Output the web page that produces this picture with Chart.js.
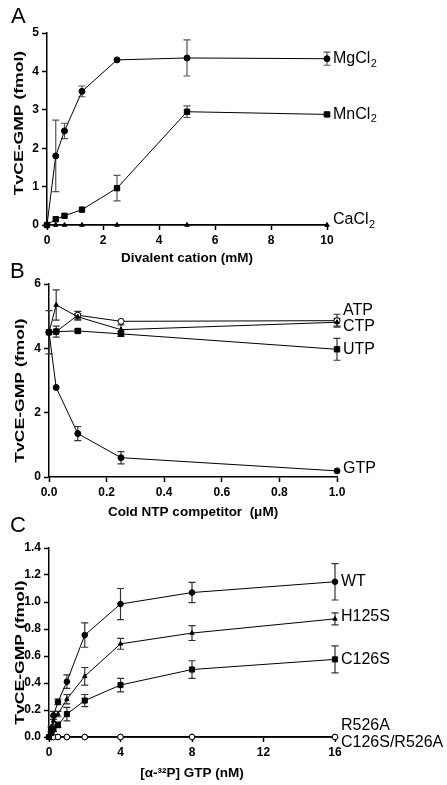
<!DOCTYPE html>
<html><head><meta charset="utf-8">
<script src="https://cdn.jsdelivr.net/npm/chart.js@4.4.0/dist/chart.umd.min.js"></script>
<style>
html,body{margin:0;padding:0;background:#fff;width:447px;height:785px;overflow:hidden;font-family:"Liberation Sans",Arial,sans-serif}
.panel{position:absolute;left:0;width:447px}
.letter{position:absolute;font-size:22px;line-height:1;font-family:"Liberation Sans",Arial,sans-serif;color:#000}
</style></head><body>
<div class="panel" style="top:0;height:268px"><canvas id="cA"></canvas></div>
<div class="panel" style="top:268px;height:258px"><canvas id="cB"></canvas></div>
<div class="panel" style="top:526px;height:259px"><canvas id="cC"></canvas></div>
<div class="letter" style="left:11px;top:5px">A</div>
<div class="letter" style="left:10px;top:260px">B</div>
<div class="letter" style="left:10px;top:514px">C</div>
<script>
// ---------- Panel A: divalent cation ----------
const cationX = [0, 0.3125, 0.625, 1.25, 2.5, 5, 10];
const mgcl2    = [0, 1.8, 2.45, 3.48, 4.3, 4.35, 4.33];
const mgcl2Err = [0, 0.93, 0.2, 0.14, 0, 0.47, 0.17];
const mncl2    = [0, 0.15, 0.24, 0.4, 0.96, 2.95, 2.88];
const mncl2Err = [0, 0, 0, 0, 0.33, 0.15, 0.03];
const cacl2    = [0, 0, 0, 0, 0, 0, 0];
const ticksA_x = [0, 10, 2];
const ticksA_y = [0, 5, 1];

// ---------- Panel B: cold NTP competitor ----------
const ntpX   = [0, 0.025, 0.1, 0.25, 1.0];
const atp    = [4.5, 4.52, 5.03, 4.84, 4.86];
const atpErr = [0, 0, 0.12, 0, 0.2];
const ctp    = [4.5, 5.35, 4.98, 4.58, 4.81];
const ctpErr = [0, 0.47, 0.1, 0.15, 0.12];
const utp    = [4.5, 4.52, 4.54, 4.45, 3.97];
const utpErr = [0, 0.17, 0.05, 0.08, 0.34];
const gtp    = [4.5, 2.78, 1.35, 0.6, 0.19];
const gtpErr = [0.67, 0, 0.22, 0.19, 0];
const ticksB_x = [0, 1, 0.2];
const ticksB_y = [0, 6, 2];

// ---------- Panel C: [alpha-32P] GTP ----------
const gtpConc  = [0, 0.125, 0.25, 0.5, 1, 2, 4, 8, 16];
const wt       = [0, 0.06, 0.16, 0.26, 0.41, 0.755, 0.985, 1.07, 1.15];
const wtErr    = [0, 0.02, 0.03, 0.02, 0.05, 0.09, 0.115, 0.075, 0.135];
const h125s    = [0, 0.05, 0.12, 0.17, 0.28, 0.45, 0.69, 0.77, 0.875];
const h125sErr = [0, 0.02, 0.03, 0.02, 0.035, 0.065, 0.04, 0.055, 0.045];
const c126s    = [0, 0.03, 0.06, 0.09, 0.17, 0.27, 0.385, 0.5, 0.575];
const c126sErr = [0, 0.01, 0.02, 0.02, 0.05, 0.045, 0.05, 0.065, 0.1];
const r526a    = [0, 0, 0, 0, 0, 0, 0, 0, 0];
const c126sR526a = [0, 0, 0, 0, 0, 0, 0, 0, 0];
const ticksC_x = [0, 16, 4];
const ticksC_y = [0, 1.4, 0.2];

const FONT = '"Liberation Sans", Arial, sans-serif';

function pts(xs, ys) { return xs.map((x, i) => ({x: x, y: ys[i]})); }

const errorBarPlugin = {
  id: 'errorBars',
  beforeDatasetsDraw(chart) {
    const ctx = chart.ctx, ys = chart.scales.y;
    chart.data.datasets.forEach((ds, i) => {
      if (!ds.errors) return;
      const meta = chart.getDatasetMeta(i);
      ctx.save();
      ctx.strokeStyle = ds.errorColor || '#333';
      ctx.lineWidth = 1.2;
      ds.data.forEach((p, j) => {
        const e = ds.errors[j];
        if (!e) return;
        const x = meta.data[j].x;
        const yt = ys.getPixelForValue(p.y + e), yb = ys.getPixelForValue(p.y - e);
        const c = 3.5;
        ctx.beginPath();
        ctx.moveTo(x, yt); ctx.lineTo(x, yb);
        ctx.moveTo(x - c, yt); ctx.lineTo(x + c, yt);
        ctx.moveTo(x - c, yb); ctx.lineTo(x + c, yb);
        ctx.stroke();
      });
      ctx.restore();
    });
  }
};

const endLabelPlugin = {
  id: 'endLabels',
  afterDatasetsDraw(chart) {
    const ctx = chart.ctx;
    chart.data.datasets.forEach((ds, i) => {
      if (!ds.endLabel) return;
      const meta = chart.getDatasetMeta(i);
      const last = meta.data[meta.data.length - 1];
      const x = last.x + 6, y = last.y + (ds.labelDy || 0);
      ctx.save();
      ctx.fillStyle = '#000';
      ctx.textBaseline = 'middle';
      ctx.textAlign = 'left';
      ctx.font = '16px ' + FONT;
      ctx.fillText(ds.endLabel, x, y);
      if (ds.endSub) {
        const w = ctx.measureText(ds.endLabel).width;
        ctx.font = '11px ' + FONT;
        ctx.fillText(ds.endSub, x + w + 0.5, y + 5);
      }
      ctx.restore();
    });
  }
};

const yTitlePlugin = {
  id: 'yTitle',
  afterDraw(chart, args, opts) {
    if (!opts || !opts.text) return;
    const ctx = chart.ctx, a = chart.chartArea;
    ctx.save();
    ctx.translate(opts.x, (a.top + a.bottom) / 2 + (opts.dy || 0));
    ctx.rotate(-Math.PI / 2);
    ctx.scale(opts.stretch || 1, 1);
    ctx.font = 'bold 13px ' + FONT;
    ctx.fillStyle = '#000';
    ctx.textAlign = 'center';
    ctx.textBaseline = 'middle';
    ctx.fillText(opts.text, 0, 0);
    ctx.restore();
  }
};

function axis(t, fmt, extra) {
  const o = {
    type: 'linear', min: t[0], max: t[1],
    ticks: {stepSize: t[2], color: '#000', padding: 3,
            font: {family: FONT, size: 12, weight: 'bold'},
            callback: fmt, maxRotation: 0, autoSkip: false},
    grid: {drawOnChartArea: false, drawTicks: true, tickLength: 5, tickColor: '#000', tickWidth: 1.5},
    border: {display: true, color: '#000', width: 1.5}
  };
  return Object.assign(o, extra || {});
}

function ds(xs, ys, style, extra) {
  return Object.assign({
    data: pts(xs, ys),
    borderColor: '#000', borderWidth: 1,
    pointStyle: style.shape, pointRadius: style.r,
    pointBackgroundColor: style.fill || '#000', pointBorderColor: '#000', pointBorderWidth: 1,
    pointHoverRadius: style.r,
    tension: 0, clip: false, showLine: true
  }, extra || {});
}

function makeChart(id, datasets, xAxis, yAxis, layout, yTitle) {
  return new Chart(document.getElementById(id), {
    type: 'scatter',
    data: {datasets: datasets},
    options: {
      responsive: true, maintainAspectRatio: false, animation: false,
      layout: {padding: layout.padding},
      plugins: {legend: {display: false}, tooltip: {enabled: false}, yTitle: yTitle},
      scales: {x: xAxis, y: yAxis}
    },
    plugins: [errorBarPlugin, endLabelPlugin, yTitlePlugin]
  });
}

const int = v => String(v);
const dec1 = v => Number(v).toFixed(1);

function xTitle(text, padBottom) {
  return {display: true, text: text, color: '#000', font: {family: FONT, size: 13.5, weight: 'bold', lineHeight: 1}, padding: {top: 0, bottom: padBottom}};
}

// Panel A
makeChart('cA', [
  ds(cationX, mgcl2, {shape: 'circle', r: 3}, {order: 0, errors: mgcl2Err, errorColor: '#555', endLabel: 'MgCl', endSub: '2', labelDy: 0}),
  ds(cationX, mncl2, {shape: 'rect', r: 3.8}, {order: 1, errors: mncl2Err, errorColor: '#555', endLabel: 'MnCl', endSub: '2', labelDy: 0}),
  ds(cationX, cacl2, {shape: 'triangle', r: 2.6}, {order: 2, endLabel: 'CaCl', endSub: '2', labelDy: -5})
],
  axis(ticksA_x, int, {title: xTitle('Divalent cation (mM)', 3), afterFit: s => { s.height = 43; }}),
  axis(ticksA_y, int, {afterFit: s => { s.width = 47; }}),
  {padding: {top: 33, right: 120, left: 0, bottom: 0}},
  {text: 'TvCE-GMP (fmol)', x: 19, stretch: 1.35, dy: -6}
);

// Panel B
makeChart('cB', [
  ds(ntpX, atp, {shape: 'circle', r: 3, fill: '#fff'}, {order: 3, errors: atpErr, endLabel: 'ATP', labelDy: -10}),
  ds(ntpX, ctp, {shape: 'triangle', r: 2.6}, {order: 2, errors: ctpErr, endLabel: 'CTP', labelDy: 4}),
  ds(ntpX, utp, {shape: 'rect', r: 3.8}, {order: 1, errors: utpErr, endLabel: 'UTP', labelDy: 0}),
  ds(ntpX, gtp, {shape: 'circle', r: 3}, {order: 0, errors: gtpErr, endLabel: 'GTP', labelDy: -2})
],
  axis(ticksB_x, dec1, {title: xTitle('Cold NTP competitor  (\u03BCM)', 7), afterFit: s => { s.height = 49; }}),
  axis(ticksB_y, int, {afterFit: s => { s.width = 49; }}),
  {padding: {top: 16, right: 110, left: 0, bottom: 0}},
  {text: 'TvCE-GMP (fmol)', x: 20, stretch: 1.35, dy: 10}
);

// Panel C
makeChart('cC', [
  ds(gtpConc, wt, {shape: 'circle', r: 2.8}, {order: 0, errors: wtErr, endLabel: 'WT', labelDy: 0}),
  ds(gtpConc, h125s, {shape: 'triangle', r: 2.5}, {order: 1, errors: h125sErr, endLabel: 'H125S', labelDy: -2}),
  ds(gtpConc, c126s, {shape: 'rect', r: 3.6}, {order: 2, errors: c126sErr, endLabel: 'C126S', labelDy: 0}),
  ds(gtpConc, r526a, {shape: 'circle', r: 2.8, fill: '#fff'}, {order: 3, endLabel: 'R526A', labelDy: -11}),
  ds(gtpConc, c126sR526a, {shape: 'circle', r: 2.8, fill: '#fff'}, {order: 4, endLabel: 'C126S/R526A', labelDy: 6})
],
  axis(ticksC_x, int, {title: xTitle('[\u03B1-\u00B3\u00B2P] GTP (nM)', 5), afterFit: s => { s.height = 48; }}),
  axis(ticksC_y, dec1, {afterFit: s => { s.width = 49; }}),
  {padding: {top: 22, right: 112, left: 0, bottom: 0}},
  {text: 'TvCE-GMP (fmol)', x: 20, stretch: 1.35, dy: 10}
);
</script>
</body></html>
